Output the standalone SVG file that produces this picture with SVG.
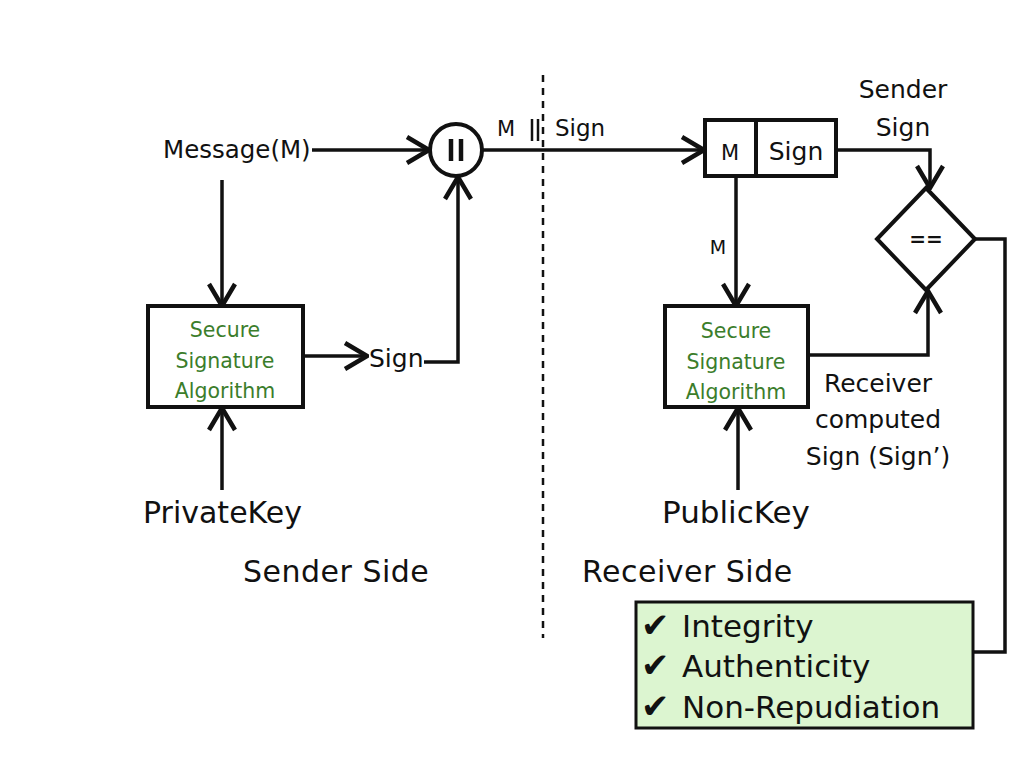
<svg xmlns="http://www.w3.org/2000/svg" width="1024" height="768" viewBox="0 0 1024 768">
<defs>
<style>
.t{font-family:"DejaVu Sans","Liberation Sans",sans-serif;fill:#111}
.g{font-family:"DejaVu Sans","Liberation Sans",sans-serif;fill:#3b7d2b;font-size:20.5px;text-anchor:middle}
.box{fill:#fff;stroke:#111;stroke-width:4}
.ln{fill:none;stroke:#111;stroke-width:3.5;stroke-linejoin:miter}
.ck{font-size:34px}
</style>
<marker id="ah" viewBox="0 0 26 30" refX="24" refY="15" markerWidth="26" markerHeight="30" markerUnits="userSpaceOnUse" orient="auto">
<path d="M2,2 L24,15 L2,28" fill="none" stroke="#111" stroke-width="4.5"/>
</marker>
</defs>
<rect width="1024" height="768" fill="#fff"/>

<line x1="543" y1="75" x2="543" y2="638" stroke="#111" stroke-width="2.5" stroke-dasharray="7,6"/>

<g id="connectors">
<line class="ln" x1="312" y1="150" x2="429" y2="150" marker-end="url(#ah)"/>
<line class="ln" x1="482" y1="150" x2="704" y2="150" marker-end="url(#ah)"/>
<line class="ln" x1="222" y1="180" x2="222" y2="306" marker-end="url(#ah)"/>
<line class="ln" x1="303" y1="356" x2="367" y2="356" marker-end="url(#ah)"/>
<polyline class="ln" points="424,362 458,362 458,177" marker-end="url(#ah)"/>
<line class="ln" x1="222" y1="490" x2="222" y2="408" marker-end="url(#ah)"/>
<polyline class="ln" points="836,150 930,150 930,188" marker-end="url(#ah)"/>
<line class="ln" x1="736" y1="177" x2="736" y2="306" marker-end="url(#ah)"/>
<polyline class="ln" points="808,355 928,355 928,291" marker-end="url(#ah)"/>
<line class="ln" x1="738" y1="490" x2="738" y2="408" marker-end="url(#ah)"/>
<polyline class="ln" points="975,239 1005,239 1005,652 973,652"/>
<text class="t" x="497" y="136" font-size="21">M</text>
<line x1="532" y1="119" x2="532" y2="141" stroke="#111" stroke-width="2.5"/>
<line x1="538" y1="119" x2="538" y2="141" stroke="#111" stroke-width="2.5"/>
<text class="t" x="555" y="136" font-size="23">Sign</text>
<text class="t" x="718" y="254" font-size="19" text-anchor="middle">M</text>
<text class="t" x="903" y="98" font-size="25" text-anchor="middle">Sender</text>
<text class="t" x="903" y="136" font-size="25" text-anchor="middle">Sign</text>
<text class="t" x="878" y="392" font-size="25" text-anchor="middle">Receiver</text>
<text class="t" x="878" y="428" font-size="25" text-anchor="middle">computed</text>
<text class="t" x="878" y="465" font-size="25" text-anchor="middle">Sign (Sign’)</text>
</g>

<g id="message">
<text class="t" x="163" y="158" font-size="24.5">Message(M)</text>
</g>

<g id="concat">
<circle cx="456" cy="150" r="26" fill="#fff" stroke="#111" stroke-width="4"/>
<line x1="451" y1="139" x2="451" y2="161" stroke="#111" stroke-width="4.5"/>
<line x1="461" y1="139" x2="461" y2="161" stroke="#111" stroke-width="4.5"/>
</g>

<g id="ssa-sender">
<rect class="box" x="148" y="306" width="155" height="101"/>
<text class="g" x="225" y="337">Secure</text>
<text class="g" x="225" y="368">Signature</text>
<text class="g" x="225" y="398">Algorithm</text>
</g>

<g id="sign-sender">
<text class="t" x="369" y="367" font-size="25">Sign</text>
</g>

<g id="privatekey">
<text class="t" x="143" y="523" font-size="30">PrivateKey</text>
</g>

<g id="sender-side">
<text class="t" x="243" y="582" font-size="30" letter-spacing="0.5">Sender Side</text>
</g>

<g id="receiver-side">
<text class="t" x="582" y="582" font-size="30" letter-spacing="0.5">Receiver Side</text>
</g>

<g id="received">
<rect class="box" x="705" y="120" width="131" height="56"/>
<line x1="756" y1="120" x2="756" y2="176" stroke="#111" stroke-width="4"/>
<text class="t" x="730" y="160" font-size="21" text-anchor="middle">M</text>
<text class="t" x="796" y="160" font-size="25" text-anchor="middle">Sign</text>
</g>

<g id="compare">
<polygon points="926,188 975,239 926,290 877,239" fill="#fff" stroke="#111" stroke-width="4"/>
<text class="t" x="926" y="246" font-size="20" text-anchor="middle" font-weight="bold">==</text>
</g>

<g id="ssa-receiver">
<rect class="box" x="665" y="306" width="143" height="101"/>
<text class="g" x="736" y="338">Secure</text>
<text class="g" x="736" y="369">Signature</text>
<text class="g" x="736" y="399">Algorithm</text>
</g>

<g id="publickey">
<text class="t" x="662" y="523" font-size="31">PublicKey</text>
</g>

<g id="result">
<rect x="636" y="602" width="337" height="126" fill="#dcf5d0" stroke="#111" stroke-width="3"/>
<text class="t" x="641" y="637" font-size="31"><tspan class="ck">✔</tspan><tspan x="682">Integrity</tspan></text>
<text class="t" x="641" y="677" font-size="31"><tspan class="ck">✔</tspan><tspan x="682">Authenticity</tspan></text>
<text class="t" x="641" y="718" font-size="31"><tspan class="ck">✔</tspan><tspan x="682">Non-Repudiation</tspan></text>
</g>
</svg>
